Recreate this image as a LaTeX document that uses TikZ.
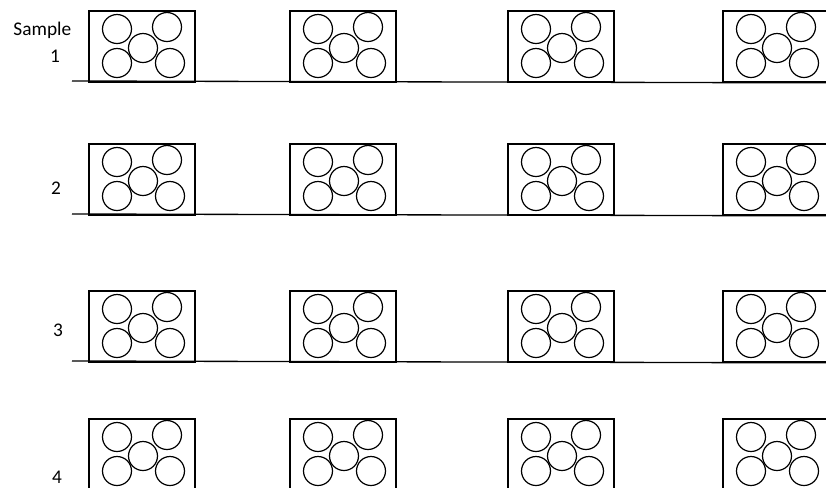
\documentclass[tikz,border=0pt]{standalone}
\usepackage{fontspec}
\setmainfont{Carlito}
\usetikzlibrary{positioning}
\tikzstyle{plate} = [rectangle, draw=black, line width=1.2pt, minimum width=79.5pt, minimum height=53.25pt, inner sep=0pt]
\tikzstyle{well} = [circle, draw=black, line width=0.9pt, minimum size=21.75pt, inner sep=0pt]
\tikzstyle{label} = [font=\fontsize{14.5}{17}\selectfont, inner sep=0pt]
\tikzstyle{base} = [line width=1pt]

\begin{document}
\begin{tikzpicture}[x=0.75pt, y=-0.75pt]
\clip (0,0) rectangle (826,487);
% sample numbers
\node (lab1) [label] at (55,56) {1};
\node (sample) [label, above=8pt of lab1, xshift=-9.5pt] {Sample};
\node (lab2) [label] at (56,188) {2};
\node (lab3) [label] at (58,330) {3};
\node (lab4) [label] at (57,477) {4};

% plates with five wells each
\foreach \r/\y in {1/10,2/143,3/290,4/418} {
  \foreach \c/\x in {1/88,2/289,3/507,4/722} {
    \node (s\r c\c) [plate, anchor=north west] at (\x,\y) {};
    \node (s\r c\c-tl) [well] at ([shift={(29,19)}]s\r c\c.north west) {};
    \node (s\r c\c-tr) [well] at ([shift={(79,17)}]s\r c\c.north west) {};
    \node (s\r c\c-m) [well] at ([shift={(55,38)}]s\r c\c.north west) {};
    \node (s\r c\c-bl) [well] at ([shift={(29,53)}]s\r c\c.north west) {};
    \node (s\r c\c-br) [well] at ([shift={(82,53)}]s\r c\c.north west) {};
  }
}

% bench lines
\coordinate (line1) at (72,81);
\coordinate (line2) at (72,214);
\coordinate (line3) at (72,361);
\draw [base] (line1) -- (s1c4.south west) -- +(120,0);
\draw [base] (line2) -- (s2c4.south west) -- +(120,0);
\draw [base] (line3) -- (s3c4.south west) -- +(120,0);
\end{tikzpicture}
\end{document}
